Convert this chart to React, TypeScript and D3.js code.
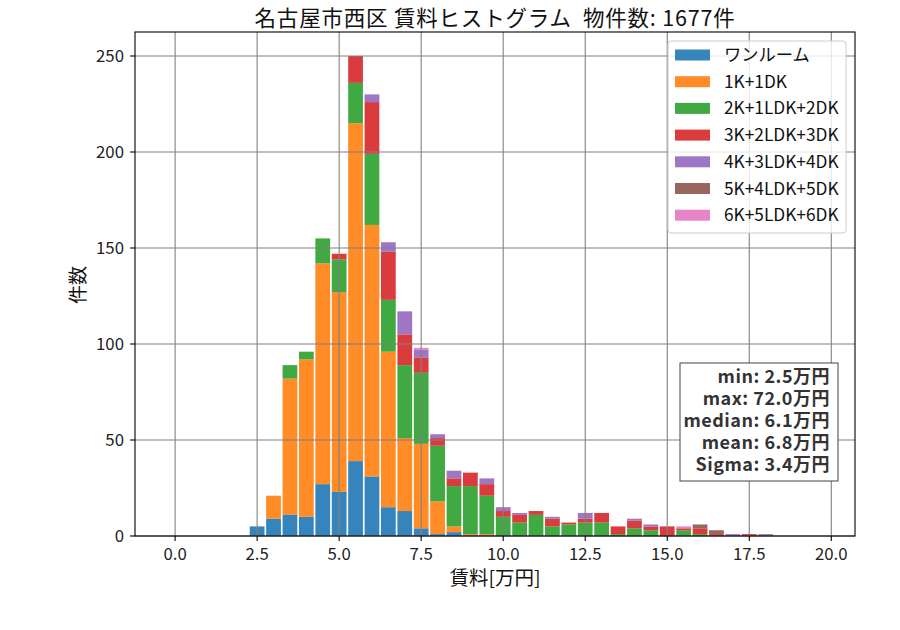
import React from 'react'
import * as d3 from 'd3'

// bin centers (万円), 0.5 step
const binCenters = [
  0, 0.5, 1, 1.5, 2, 2.5, 3, 3.5, 4, 4.5, 5, 5.5, 6, 6.5, 7, 7.5, 8, 8.5, 9, 9.5,
  10, 10.5, 11, 11.5, 12, 12.5, 13, 13.5, 14, 14.5, 15, 15.5, 16, 16.5, 17, 17.5, 18, 18.5, 19, 19.5,
]

const seriesNames = ['ワンルーム', '1K+1DK', '2K+1LDK+2DK', '3K+2LDK+3DK', '4K+3LDK+4DK', '5K+4LDK+5DK', '6K+5LDK+6DK']

const oneRoom = [0, 0, 0, 0, 0, 5, 9, 11, 10, 27, 23, 39, 31, 15, 13, 4, 1, 2, 0, 0,
  0, 0, 0, 0, 0, 0, 0, 0, 0, 0, 0, 0, 0, 0, 0, 0, 0, 0, 0, 0]
const k1 = [0, 0, 0, 0, 0, 0, 12, 71, 82, 115, 104, 176, 131, 81, 38, 44, 17, 3, 1, 1,
  0, 0, 0, 0, 0, 0, 0, 0, 0, 0, 0, 0, 0, 0, 0, 0, 0, 0, 0, 0]
const k2 = [0, 0, 0, 0, 0, 0, 0, 7, 4, 13, 17, 21, 37, 27, 38, 37, 29, 21, 25, 20,
  10, 7, 11, 5, 6, 7, 7, 1, 4, 3, 0, 3, 1, 0, 0, 0, 0, 0, 0, 0]
const k3 = [0, 0, 0, 0, 0, 0, 0, 0, 0, 0, 3, 14, 27, 25, 16, 8, 4, 4, 7, 6,
  3, 4, 2, 4, 1, 2, 5, 4, 4, 2, 5, 1, 3, 1, 0, 1, 0, 0, 0, 0]
const k4 = [0, 0, 0, 0, 0, 0, 0, 0, 0, 0, 0, 0, 4, 5, 12, 4, 2, 4, 0, 3,
  2, 1, 0, 1, 0, 3, 0, 0, 1, 1, 0, 0, 0, 0, 1, 0, 1, 0, 0, 0]
const k5 = [0, 0, 0, 0, 0, 0, 0, 0, 0, 0, 0, 0, 0, 0, 0, 0, 0, 0, 0, 0,
  0, 0, 0, 0, 0, 0, 0, 0, 0, 0, 0, 0, 2, 2, 0, 0, 0, 0, 0, 0]
const k6 = [0, 0, 0, 0, 0, 0, 0, 0, 0, 0, 0, 0, 0, 0, 0, 1, 0, 0, 0, 0,
  0, 0, 0, 0, 0, 0, 0, 0, 0, 0, 0, 1, 0, 0, 0, 0, 0, 0, 0, 0]

const seriesValues = [oneRoom, k1, k2, k3, k4, k5, k6]
const colors = ['#1f77b4', '#ff7f0e', '#2ca02c', '#d62728', '#9467bd', '#8c564b', '#e377c2']

const xTicks = [0, 2.5, 5, 7.5, 10, 12.5, 15, 17.5, 20]
const yTicks = [0, 50, 100, 150, 200, 250]

const statLines = ['min: 2.5万円', 'max: 72.0万円', 'median: 6.1万円', 'mean: 6.8万円', 'Sigma: 3.4万円']

const FONT = '"Noto Sans CJK JP", "Noto Sans", sans-serif'

export default function App() {
  const width = 900
  const height = 630
  const margin = { top: 32, right: 45, bottom: 94, left: 135 }
  const x0 = margin.left
  const x1 = width - margin.right
  const y0 = height - margin.bottom
  const y1 = margin.top

  const barWidth = 0.45
  const rows = binCenters.map((c, i) => {
    const r: Record<string, number> = { center: c }
    seriesNames.forEach((n, j) => { r[n] = seriesValues[j][i] })
    return r
  })
  const stacked = d3.stack<Record<string, number>>().keys(seriesNames)(rows)

  // matplotlib-like 5% margins
  const dMin = binCenters[0] - barWidth / 2
  const dMax = binCenters[binCenters.length - 1] + barWidth / 2
  const pad = (dMax - dMin) * 0.05
  const x = d3.scaleLinear().domain([dMin - pad, dMax + pad]).range([x0, x1])

  const maxTotal = d3.max(rows, r => d3.sum(seriesNames, n => r[n])) as number
  const y = d3.scaleLinear().domain([0, maxTotal * 1.05]).range([y0, y1])

  const bw = x(barWidth) - x(0)

  const legendX = 668
  const legendY = 41
  const rowH = 26.7

  return (
    <svg width={width} height={height} style={{ position: 'absolute', left: 0, top: 0, background: '#fff' }}
      fontFamily={FONT}>
      <rect x={0} y={0} width={width} height={height} fill="#fff" />

      {/* bars */}
      {stacked.map((layer, j) => (
        <g key={layer.key} fill={colors[j]} fillOpacity={0.9}>
          {layer.map((d, i) => (d[1] - d[0] > 0 ? (
            <rect key={i} x={x(binCenters[i]) - bw / 2} width={bw}
              y={y(d[1])} height={y(d[0]) - y(d[1])} />
          ) : null))}
        </g>
      ))}

      {/* grid above bars */}
      <g stroke="#808080" strokeWidth={1.1}>
        {xTicks.map(t => <line key={'gx' + t} x1={x(t)} x2={x(t)} y1={y1} y2={y0} />)}
        {yTicks.map(t => <line key={'gy' + t} x1={x0} x2={x1} y1={y(t)} y2={y(t)} />)}
      </g>

      {/* spines */}
      <rect x={x0} y={y1} width={x1 - x0} height={y0 - y1} fill="none" stroke="#000" strokeWidth={1.1} />

      {/* ticks */}
      <g fontSize={16.8} fill="#222">
        {xTicks.map(t => (
          <g key={'xt' + t}>
            <line x1={x(t)} x2={x(t)} y1={y0} y2={y0 + 5} stroke="#000" strokeWidth={1.1} />
            <text x={x(t)} y={y0 + 24} textAnchor="middle">{t.toFixed(1)}</text>
          </g>
        ))}
        {yTicks.map(t => (
          <g key={'yt' + t}>
            <line x1={x0 - 5} x2={x0} y1={y(t)} y2={y(t)} stroke="#000" strokeWidth={1.1} />
            <text x={x0 - 11} y={y(t)} dy="0.35em" textAnchor="end">{t}</text>
          </g>
        ))}
      </g>

      {/* labels */}
      <text x={(x0 + x1) / 2} y={26} textAnchor="middle" fontSize={21.5} letterSpacing={0.8} fill="#111"
        style={{ whiteSpace: 'pre' }}>
        {'名古屋市西区 賃料ヒストグラム  物件数: 1677件'}
      </text>
      <text x={(x0 + x1) / 2} y={585} textAnchor="middle" fontSize={19.5} fill="#111">賃料[万円]</text>
      <text transform={`translate(85,285) rotate(-90)`} textAnchor="middle" fontSize={19} fill="#111">件数</text>

      {/* legend */}
      <rect x={legendX} y={legendY} width={178} height={192} rx={3} fill="#fff" fillOpacity={0.8}
        stroke="#cccccc" strokeWidth={1} />
      {seriesNames.map((n, i) => (
        <g key={'lg' + n} transform={`translate(${legendX + 7},${legendY + 14 + i * rowH})`}>
          <rect x={0} y={-5.5} width={35} height={11} fill={colors[i]} fillOpacity={0.9} />
          <text x={49} y={0} dy="0.35em" fontSize={17.3} fill="#111">{n}</text>
        </g>
      ))}

      {/* stats box */}
      <rect x={680} y={363} width={158} height={118} fill="#fff" stroke="#555" strokeWidth={1.1} />
      <text x={830} y={383} textAnchor="end" fontSize={18} letterSpacing={0.5} fontWeight="bold" fill="#333">
        {statLines.map((s, i) => (
          <tspan key={s} x={830} dy={i === 0 ? 0 : 22}>{s}</tspan>
        ))}
      </text>
    </svg>
  )
}
